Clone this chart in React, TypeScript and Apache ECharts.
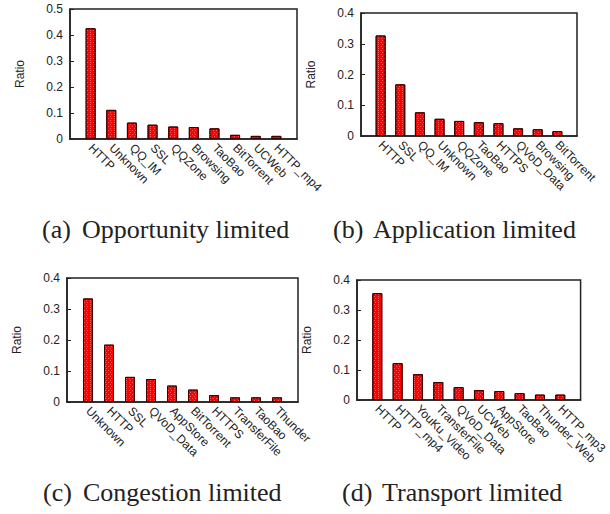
import React, { useEffect, useRef } from "react";
import * as echarts from "echarts";

const catsA = ["HTTP", "Unknown", "QQ_IM", "SSL", "QQZone", "Browsing", "TaoBao", "BitTorrent", "UCWeb", "HTTP_mp4"];
const valsA = [0.426, 0.112, 0.063, 0.055, 0.048, 0.046, 0.041, 0.016, 0.012, 0.012];
const catsB = ["HTTP", "SSL", "QQ_IM", "Unknown", "QQZone", "TaoBao", "HTTPS", "QVoD_Data", "Browsing", "BitTorrent"];
const valsB = [0.327, 0.168, 0.077, 0.056, 0.049, 0.045, 0.042, 0.025, 0.022, 0.016];
const catsC = ["Unknown", "HTTP", "SSL", "QVoD_Data", "AppStore", "BitTorrent", "HTTPS", "TransferFile", "TaoBao", "Thunder"];
const valsC = [0.334, 0.185, 0.081, 0.074, 0.053, 0.04, 0.022, 0.015, 0.015, 0.015];
const catsD = ["HTTP", "HTTP_mp4", "YouKu_Video", "TransferFile", "QVoD_Data", "UCWeb", "AppStore", "TaoBao", "Thunder_Web", "HTTP_mp3"];
const valsD = [0.356, 0.123, 0.086, 0.06, 0.043, 0.033, 0.03, 0.023, 0.018, 0.018];
const yMaxes = [0.5, 0.4, 0.4, 0.4];
const captions = [
  ["(a)", "Opportunity limited"],
  ["(b)", "Application limited"],
  ["(c)", "Congestion limited"],
  ["(d)", "Transport limited"],
];

const panels = [
  { cats: catsA, vals: valsA },
  { cats: catsB, vals: valsB },
  { cats: catsC, vals: valsC },
  { cats: catsD, vals: valsD },
];

const grids = [
  { left: 70, top: 9, width: 227, height: 130 },
  { left: 361, top: 13, width: 216, height: 123 },
  { left: 67, top: 278, width: 231, height: 124 },
  { left: 357, top: 280, width: 226, height: 120 },
];

const capPos = [
  { x: 42, gap: 82, y: 242 },
  { x: 333, gap: 373, y: 242 },
  { x: 43, gap: 83, y: 505 },
  { x: 342, gap: 382, y: 505 },
];

export default function App() {
  const ref = useRef<HTMLDivElement>(null);
  useEffect(() => {
    document.body.style.margin = "0";
    const chart = echarts.init(ref.current!, null, { renderer: "svg" });
    const sans = "Liberation Sans, Arial, sans-serif";
    const serif = "26px 'Liberation Serif', 'Times New Roman', serif";
    const option: any = {
      animation: false,
      backgroundColor: "#fff",
      grid: grids.map((g) => ({ ...g, show: true, borderColor: "#222", borderWidth: 1.5, backgroundColor: "transparent" })),
      xAxis: panels.map((p, i) => ({
        type: "category",
        gridIndex: i,
        data: ["", ...p.cats, ""],
        boundaryGap: false,
        axisTick: { show: false },
        axisLine: { lineStyle: { color: "#222", width: 1.5 } },
        axisLabel: { rotate: -45, interval: 0, fontSize: 12, fontFamily: sans, color: "#222", margin: 7 },
        splitLine: { show: false },
      })),
      yAxis: panels.map((p, i) => ({
        type: "value",
        gridIndex: i,
        min: 0,
        max: yMaxes[i],
        interval: 0.1,
        name: "Ratio",
        nameLocation: "middle",
        nameGap: 44,
        nameTextStyle: { fontSize: 12, fontFamily: sans, color: "#222" },
        axisLine: { show: true, lineStyle: { color: "#222", width: 1.5 } },
        axisTick: { show: true, inside: true, length: 4, lineStyle: { color: "#222" } },
        axisLabel: { fontSize: 12, fontFamily: sans, color: "#222", margin: 7 },
        splitLine: { show: false },
      })),
      series: panels.map((p, i) => ({
        type: "bar",
        xAxisIndex: i,
        yAxisIndex: i,
        data: ["-", ...p.vals, "-"],
        barWidth: 10,
        itemStyle: {
          color: "#ff0000",
          borderColor: "#400000",
          borderWidth: 1,
          decal: {
            symbol: "rect",
            symbolSize: 1,
            color: "rgba(255,200,200,0.45)",
            dashArrayX: [[1, 2], [0, 1.5, 1, 0.5]],
            dashArrayY: [1, 1],
          },
        },
      })),
      graphic: captions.flatMap((c, i) => [
        {
          type: "text",
          x: capPos[i].x,
          y: capPos[i].y,
          style: { text: c[0], font: serif, fill: "#222", textVerticalAlign: "bottom" },
        },
        {
          type: "text",
          x: capPos[i].gap,
          y: capPos[i].y,
          style: { text: c[1], font: serif, fill: "#222", textVerticalAlign: "bottom" },
        },
      ]),
    };
    chart.setOption(option);
    return () => chart.dispose();
  }, []);
  return <div ref={ref} style={{ width: 610, height: 514 }} />;
}
